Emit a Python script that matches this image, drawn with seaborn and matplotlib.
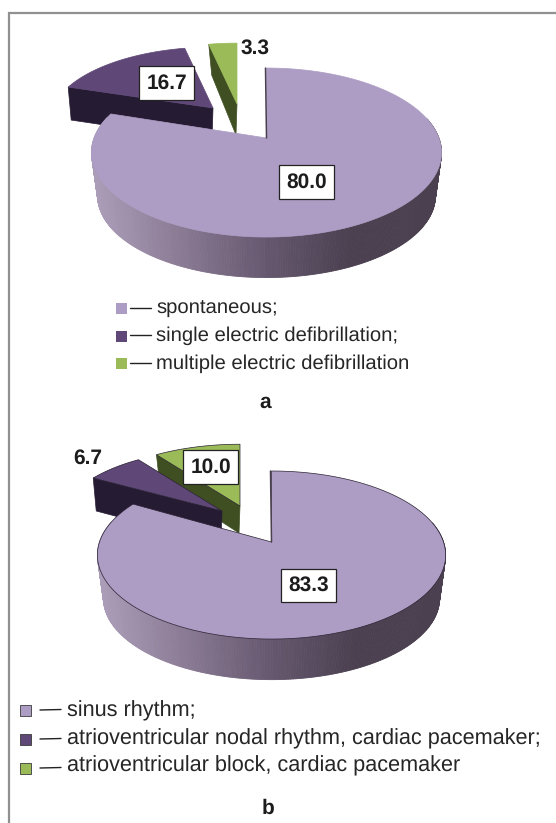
import numpy as np
import matplotlib
matplotlib.use("Agg")
import matplotlib.pyplot as plt
import seaborn as sns

# ---- data ----
values_a = [80.0, 16.7, 3.3]
values_b = [83.3, 6.7, 10.0]
names_a = ["spontaneous;", "single electric defibrillation;", "multiple electric defibrillation"]
names_b = ["sinus rhythm;", "atrioventricular nodal rhythm, cardiac pacemaker;", "atrioventricular block, cardiac pacemaker"]
top_colors = ["#ad9dc4", "#5f4877", "#9bbb59"]
wall_colors = ["#4a4050", "#251b33", "#3f4f22"]

sns.set_theme(style="white")
plt.rcParams["font.family"] = ["Liberation Sans", "DejaVu Sans"]
plt.rcParams["text.hinting"] = "no_hinting"
plt.rcParams["text.hinting_factor"] = 8
ramp = sns.blend_palette(["#ab9cb8", "#8a7a94", "#66586f", "#4a4050", "#4a4050"], n_colors=120)

fig = plt.figure(figsize=(5.56, 8.23), dpi=100)
ax = fig.add_axes([0, 0, 1, 1])
ax.set_xlim(0, 556)
ax.set_ylim(823, 0)
ax.axis("off")

EXPLODE_SX, EXPLODE_SY = 0.93, 0.87


def project(theta, apex, R, A, k, sx=1.0, sy=1.0, dz=0.0):
    """Perspective projection of a disc point (theta clockwise from 12 o'clock, degrees)."""
    t = np.radians(theta)
    u, v = np.sin(t), np.cos(t)
    return apex[0] + sx * R * u / (1 + k * v), apex[1] - sy * A * v / (1 + k * v) + dz


def exploded(start, end, apex, color, wall, depth, geom, outline):
    R, A, k = geom
    th = np.linspace(start, end, 50)
    x, y = project(th, apex, R, A, k, EXPLODE_SX, EXPLODE_SY)
    x0, y0 = x[0], y[0]
    ax.fill([x0, apex[0], apex[0] - 1, x0 + 3], [y0, apex[1], apex[1] + depth, y0 + depth],
            color=wall, lw=0.5, zorder=2)
    ax.fill(np.r_[apex[0], x], np.r_[apex[1], y], color=color, zorder=3,
            ec="#2a2233" if outline else color, lw=0.5)


def main_slice(end, apex, geom, color, wall, depth, outline):
    R, A, k = geom
    th = np.linspace(0, end, 400)
    xt, yt = project(th, apex, R, A, k)
    xb, yb = project(th, apex, R, A, k, 0.965, 0.965, depth)
    xmin, xmax = xt.min(), xt.max()
    # outer wall, shaded from left (light) to right (dark)
    for i in range(len(th) - 1):
        if np.cos(np.radians(th[i])) < 0.25 or xt[i] < xmin + 2:
            frac = np.clip((xt[i] - xmin) / (xmax - xmin), 0, 0.999)
            ax.fill([xt[i], xt[i + 1], xb[i + 1], xb[i]], [yt[i], yt[i + 1], yb[i + 1], yb[i]],
                    color=ramp[int(frac * len(ramp))], lw=0.6, zorder=4)
    ax.fill(np.r_[apex[0], xt], np.r_[apex[1], yt], color=color, zorder=5,
            ec="#2a2233" if outline else color, lw=0.5)
    ax.plot([xt[0] - 1, apex[0]], [yt[0], apex[1]], color=wall, lw=1.1, zorder=5)


def boxed(x, y, txt):
    ax.text(x, y, txt, ha="center", va="center", fontsize=15, fontweight="bold", color="#1c1c1c", zorder=8,
            bbox=dict(boxstyle="square,pad=0.33", fc="white", ec="#222222", lw=0.9))


def angles(vals):
    return np.cumsum(vals) * 3.6


# ---- chart a ----
ga = (172.4, 82.0, 0.172)
ea = angles(values_a)
exploded(ea[1], ea[2], (237, 104), top_colors[2], wall_colors[2], 31, ga, False)
exploded(ea[0], ea[1], (213, 108), top_colors[1], wall_colors[1], 33, ga, False)
main_slice(ea[0], (266.5, 138), ga, top_colors[0], wall_colors[0], 44, False)
boxed(306.5, 182, f"{values_a[0]:.1f}")
boxed(166.5, 83, f"{values_a[1]:.1f}")
ax.text(255, 48, f"{values_a[2]:.1f}", ha="center", va="center", fontsize=15, fontweight="bold", color="#1c1c1c", zorder=8)

# ---- chart b ----
gb = (172.0, 82.0, 0.155)
eb = angles(values_b)
exploded(eb[1], eb[2], (240, 506), top_colors[2], wall_colors[2], 27, gb, True)
exploded(eb[0], eb[1], (222, 511), top_colors[1], wall_colors[1], 33, gb, True)
main_slice(eb[0], (271.5, 542), gb, top_colors[0], wall_colors[0], 44, True)
boxed(308.5, 585.5, f"{values_b[0]:.1f}")
boxed(210.5, 467, f"{values_b[2]:.1f}")
ax.text(88, 458, f"{values_b[1]:.1f}", ha="center", va="center", fontsize=15, fontweight="bold", color="#1c1c1c", zorder=8)

# ---- legends ----
for y, c, name in zip([308.5, 336, 363.5], top_colors, names_a):
    ax.add_patch(plt.Rectangle((116, y - 5.5), 11, 11, fc=c, ec="none"))
    ax.plot([130, 151], [y - 1, y - 1], color="#222222", lw=1.0)
    ax.text(156, y, name, ha="left", va="center", fontsize=14.6, color="#262626")
ax.text(265, 402, "a", ha="center", va="center", fontsize=15, fontweight="bold", color="#1c1c1c")

for y, yt, c, name in zip([710.5, 739.5, 768.5], [710.5, 738.5, 765.5], top_colors, names_b):
    ax.add_patch(plt.Rectangle((20, y - 5.5), 11, 11, fc=c, ec="#3a3a3a", lw=0.6))
    ax.plot([40, 61], [y - 0.5, y - 1], color="#222222", lw=1.0)
    ax.text(67, yt, name, ha="left", va="center", fontsize=15.6, color="#262626")
ax.text(268, 808, "b", ha="center", va="center", fontsize=15, fontweight="bold", color="#1c1c1c")

# ---- frame: left and top edges only ----
ax.plot([8.7, 8.7, 556], [823, 12.5, 12.5], color="#909090", lw=1.6, solid_joinstyle="miter")

fig.savefig("out.png", dpi=100)
